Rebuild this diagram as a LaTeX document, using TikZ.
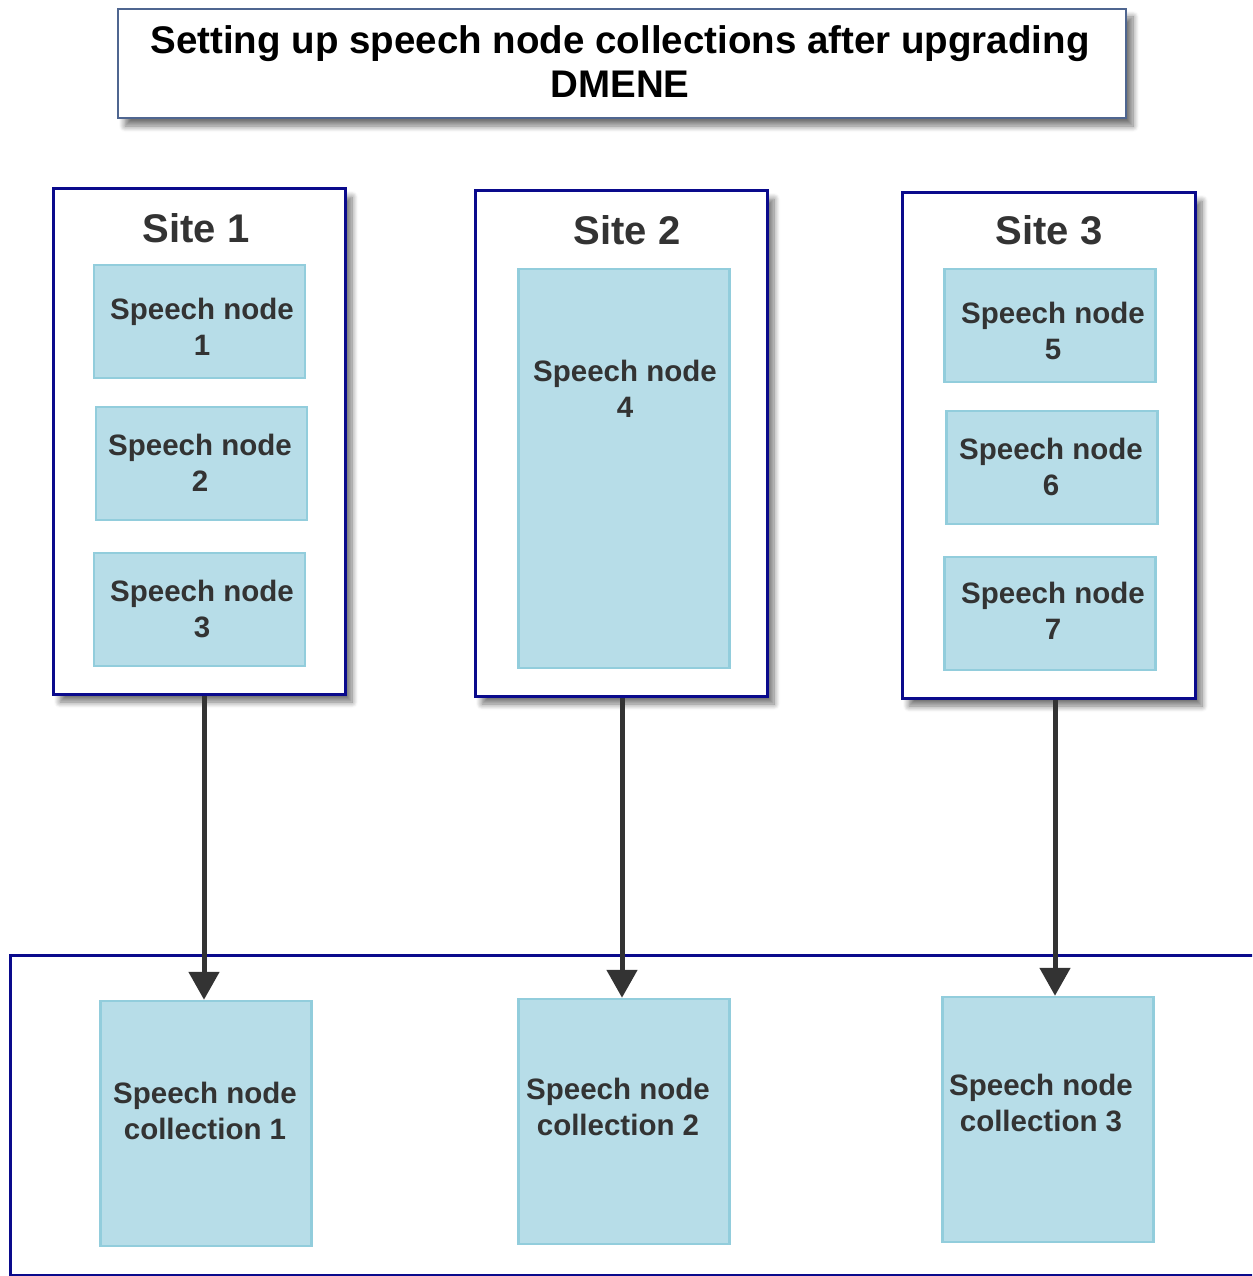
\documentclass[tikz,border=0pt]{standalone}
\usepackage{fontspec}
\setmainfont{Liberation Sans}
\usetikzlibrary{arrows.meta,shadows.blur}
\definecolor{navy}{HTML}{0A0A8C}
\definecolor{nodefill}{HTML}{B7DDE8}
\definecolor{nodeedge}{HTML}{92CDDC}
\definecolor{txt}{HTML}{333333}
\definecolor{titleedge}{HTML}{4F6690}
\tikzset{
  shadowed/.style={blur shadow={shadow xshift=7pt, shadow yshift=-8pt, shadow blur steps=8, shadow blur radius=6pt, shadow opacity=55}},
  sitebox/.style={draw=navy, line width=3pt, fill=white, inner sep=0pt, shadowed},
  spnode/.style={draw=nodeedge, fill=nodefill, line width=2.5pt, inner sep=0pt,
    minimum width=211pt},
  sptext/.style={text=txt, font=\fontsize{29.5}{36}\selectfont\bfseries, align=center, inner sep=0pt},
  sitelabel/.style={text=txt, font=\fontsize{40}{44}\selectfont\bfseries, inner sep=0pt},
  arr/.style={draw=txt, line width=5pt, -{Triangle[length=28pt,width=30pt]}},
}
\begin{document}
\begin{tikzpicture}[x=1pt,y=-1pt]
\useasboundingbox (0,0) rectangle (1252,1276);
\begin{scope}
\clip (0,0) rectangle (1252,1276);
% title
\node[draw=titleedge, line width=1.8pt, fill=white, minimum width=1008pt, minimum height=109pt,
  inner sep=0pt, align=center, font=\fontsize{38.5}{44}\selectfont\bfseries, shadowed]
  (title) at (622,63.5) {};
\node[inner sep=0pt, align=center, font=\fontsize{38.5}{44}\selectfont\bfseries]
  (ttext) at (620,62) {Setting up speech node collections after upgrading\\DMENE};
% bottom container
\node[draw=navy, line width=3pt, fill=white, minimum width=1260pt, minimum height=320pt, inner sep=0pt]
  (bottom) at (640,1115) {};
% sites
\node[sitebox, minimum width=292pt, minimum height=505pt] (s1) at (199,441.5) {};
\node[sitebox, minimum width=292pt, minimum height=505pt] (s2) at (621,443.5) {};
\node[sitebox, minimum width=293pt, minimum height=505pt] (s3) at (1048.5,445.5) {};
\node[sitelabel] (l1) at (196,228) {Site 1};
\node[sitelabel] (l2) at (627,230) {Site 2};
\node[sitelabel] (l3) at (1049,230) {Site 3};
% speech nodes
\node[spnode, minimum height=113pt] (n1) at (199.5,321.5) {};
\node[spnode, minimum height=113pt] (n2) at (201.5,463.5) {};
\node[spnode, minimum height=113pt] (n3) at (199.5,609.5) {};
\node[spnode, minimum height=399pt] (n4) at (624,468.5) {};
\node[spnode, minimum height=113pt] (n5) at (1050,325.5) {};
\node[spnode, minimum height=113pt] (n6) at (1052,467.5) {};
\node[spnode, minimum height=113pt] (n7) at (1050,613.5) {};
\node[sptext] (t1) at (202,327) {Speech node\\1};
\node[sptext] (t2) at (200,463) {Speech node\\2};
\node[sptext] (t3) at (202,609) {Speech node\\3};
\node[sptext] (t4) at (625,389) {Speech node\\4};
\node[sptext] (t5) at (1053,331) {Speech node\\5};
\node[sptext] (t6) at (1051,467) {Speech node\\6};
\node[sptext] (t7) at (1053,611) {Speech node\\7};
% collections
\node[spnode, minimum height=245pt] (c1) at (206,1123.5) {};
\node[spnode, minimum height=245pt] (c2) at (624,1121.5) {};
\node[spnode, minimum height=245pt] (c3) at (1048,1119.5) {};
\node[sptext] (u1) at (205,1111) {Speech node\\collection 1};
\node[sptext] (u2) at (618,1107) {Speech node\\collection 2};
\node[sptext] (u3) at (1041,1103) {Speech node\\collection 3};
% arrows
\coordinate (a1) at (204,0);
\coordinate (a2) at (622,0);
\coordinate (a3) at (1055,0);
\draw[arr] (s1.south -| a1) -- (a1 |- c1.north);
\draw[arr] (s2.south -| a2) -- (a2 |- c2.north);
\draw[arr] (s3.south -| a3) -- (a3 |- c3.north);
\end{scope}
\end{tikzpicture}
\end{document}
